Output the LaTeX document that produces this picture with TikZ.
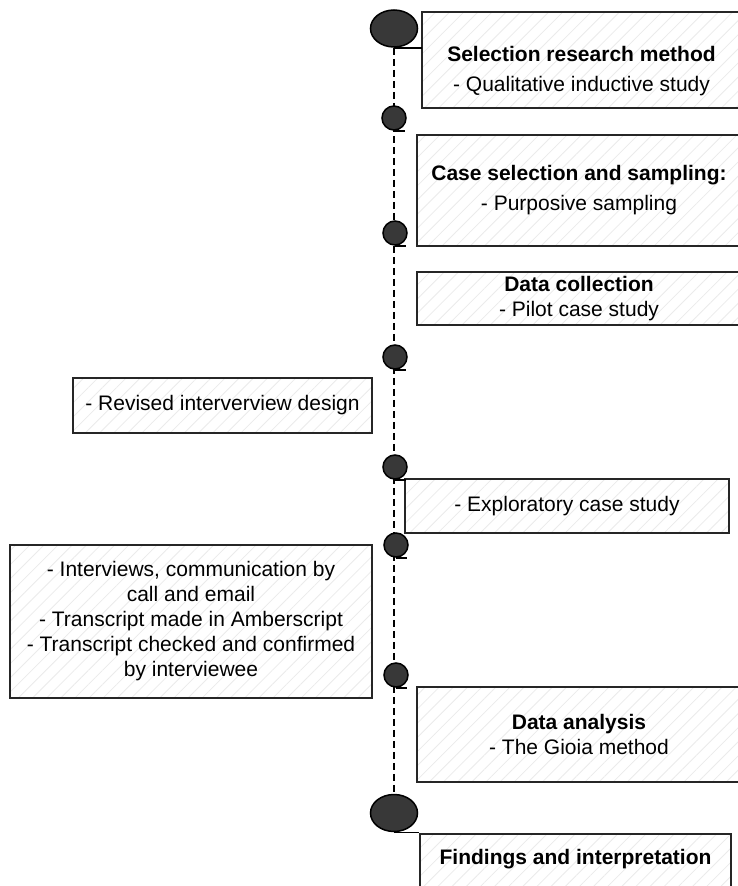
\documentclass[tikz,border=0pt]{standalone}
\usepackage{fontspec}
\setmainfont{Liberation Sans}
\usetikzlibrary{shapes.geometric}
\usetikzlibrary{patterns.meta}
\usetikzlibrary{backgrounds}

\tikzset{
  stagebox/.style={draw=black!85, line width=1.5pt, preaction={fill=white},
    pattern={Lines[angle=45,distance=10pt,line width=0.8pt]}, pattern color=black!8,
    align=center, inner sep=0pt, font=\fontsize{21}{25}\selectfont},
  dot/.style={circle, draw=black, line width=1.5pt, fill=black!78, minimum size=24pt, inner sep=0pt},
  bigdot/.style={ellipse, draw=black, line width=1.5pt, fill=black!78, minimum width=47pt, minimum height=37pt, inner sep=0pt},
  timeline/.style={line width=2pt, dash pattern=on 7pt off 4pt},
  tail/.style={line width=1.5pt}
}

\begin{document}
\begin{tikzpicture}[x=1pt,y=-1pt]
\useasboundingbox (0,0) rectangle (738,886);
\clip (0,0) rectangle (738,886);

% stage boxes
\node[stagebox, minimum width=319, minimum height=96] (selection) at (581.5,60)
  {\rule{0pt}{37pt}\textbf{Selection research method}\\[5pt]- Qualitative inductive study};
\node[stagebox, minimum width=324, minimum height=111] (sampling) at (579,190.5)
  {\textbf{Case selection and sampling:}\\[5pt]- Purposive sampling};
\node[stagebox, minimum width=324, minimum height=53] (collection) at (579,298.5)
  {\textbf{Data collection}\\- Pilot case study};
\node[stagebox, minimum width=299, minimum height=55] (revised) at (222.5,405.5)
  {- Revised interverview design};
\node[stagebox, minimum width=324, minimum height=54] (exploratory) at (567,506)
  {- Exploratory case study};
\node[stagebox, minimum width=362, minimum height=153] (interviews) at (191,621.5)
  {- Interviews, communication by\\call and email\\- Transcript made in Amberscript\\- Transcript checked and confirmed\\by interviewee};
\node[stagebox, minimum width=324, minimum height=95] (analysis) at (579,734.5)
  {\textbf{Data analysis}\\- The Gioia method};
\node[stagebox, minimum width=311, minimum height=80, anchor=north, text depth=34pt] (findings) at (575.5,833)
  {\textbf{Findings and interpretation}};

% timeline dots
\node[bigdot] (start) at (394,28.5) {};
\node[dot] (d1) at (394,118) {};
\node[dot] (d2) at (395,233) {};
\node[dot] (d3) at (395,357) {};
\node[dot] (d4) at (395,467) {};
\node[dot] (d5) at (396,545) {};
\node[dot] (d6) at (396,675) {};
\node[bigdot] (end) at (394,813) {};

\begin{scope}[on background layer]
  \draw[timeline] (start.south) -- (end.north);
\end{scope}

% tails
\draw[tail] (start.south) -- (start.south -| selection.west);
\draw[tail] (end.south) -- (end.south -| findings.west);
\foreach \d in {d1,d2,d3,d4,d5,d6}
  \draw[tail] (\d.south) -- ++(11,0);
\end{tikzpicture}
\end{document}
